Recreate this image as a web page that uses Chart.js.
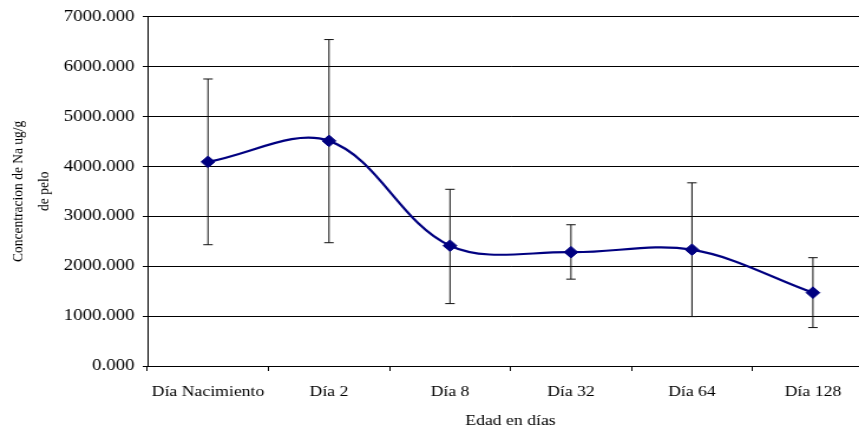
<!DOCTYPE html>
<html>
<head>
<meta charset="utf-8">
<script src="https://cdn.jsdelivr.net/npm/chart.js@4/dist/chart.umd.min.js"></script>
<style>
  html, body { margin: 0; padding: 0; background: #fff; overflow: hidden; width: 859px; height: 429px; }
  #c { display: block; transform: scaleX(1.18); transform-origin: 0 0; }
</style>
</head>
<body>
<canvas id="c" width="747" height="429"></canvas>
<script>
// Sodium concentration in hair (ug/g) by age, with error bars
const categories = ['Día Nacimiento', 'Día 2', 'Día 8', 'Día 32', 'Día 64', 'Día 128'];
const sodium     = [4090, 4510, 2410, 2280, 2330, 1470];
const errorHigh  = [5750, 6540, 3540, 2830, 3670, 2170];
const errorLow   = [2430, 2470, 1250, 1740, 990, 770];
const yTickValues = [0, 1000, 2000, 3000, 4000, 5000, 6000, 7000];

const serif = 'Liberation Serif, Times New Roman, serif';

// Vertical error bars with caps, drawn beneath the line and markers
const errorBars = {
  id: 'errorBars',
  beforeDatasetsDraw(chart) {
    const { ctx, scales: { x, y } } = chart;
    ctx.save();
    ctx.strokeStyle = '#111';
    ctx.lineWidth = 1;
    const cap = 4;
    categories.forEach((_, i) => {
      const px = x.getPixelForValue(i);
      const top = y.getPixelForValue(errorHigh[i]);
      const bot = y.getPixelForValue(errorLow[i]);
      ctx.beginPath();
      ctx.moveTo(px, top); ctx.lineTo(px, bot);
      ctx.moveTo(px - cap, top); ctx.lineTo(px + cap, top);
      ctx.moveTo(px - cap, bot); ctx.lineTo(px + cap, bot);
      ctx.stroke();
    });
    ctx.restore();
  }
};

new Chart(document.getElementById('c'), {
  type: 'line',
  data: {
    labels: categories,
    datasets: [{
      data: sodium,
      borderColor: '#000080',
      backgroundColor: '#000080',
      borderWidth: 2.2,
      tension: 0.35,
      pointStyle: 'rectRot',
      pointRadius: 5.8,
      pointBackgroundColor: '#000080',
      pointBorderColor: '#000080',
      pointBorderWidth: 1,
      fill: false
    }]
  },
  options: {
    responsive: false,
    devicePixelRatio: 1,
    animation: false,
    layout: { padding: { left: 0, right: 0, top: 16, bottom: 0 } },
    plugins: { legend: { display: false }, tooltip: { enabled: false } },
    scales: {
      x: {
        offset: true,
        grid: { display: true, drawOnChartArea: false, offset: true, tickLength: 5, color: '#000' },
        border: { display: true, color: '#000', width: 1 },
        ticks: { color: '#000', padding: 12, maxRotation: 0, autoSkip: false, font: { family: serif, size: 15 } },
        title: {
          display: true, text: 'Edad en días', color: '#000',
          font: { family: serif, size: 15, lineHeight: 1 }, padding: { top: 0, bottom: 0 }
        },
        afterFit(scale) { scale.height = 63; }
      },
      y: {
        min: 0, max: 7000,
        afterBuildTicks(scale) { scale.ticks = yTickValues.map(v => ({ value: v })); },
        grid: { color: '#000', lineWidth: 1, tickLength: 4 },
        border: { display: true, color: '#000', width: 1 },
        ticks: {
          color: '#000', padding: 7,
          font: { family: serif, size: 16 },
          callback: v => Number(v).toFixed(3)
        },
        title: {
          display: true, text: ['Concentracion de Na ug/g', 'de pelo'], color: '#000',
          font: { family: serif, size: 13.5, lineHeight: 1.6 }, padding: { top: 5, bottom: 0 }
        },
        afterFit(scale) { scale.width = 125; }
      }
    }
  },
  plugins: [errorBars]
});
</script>
</body>
</html>
